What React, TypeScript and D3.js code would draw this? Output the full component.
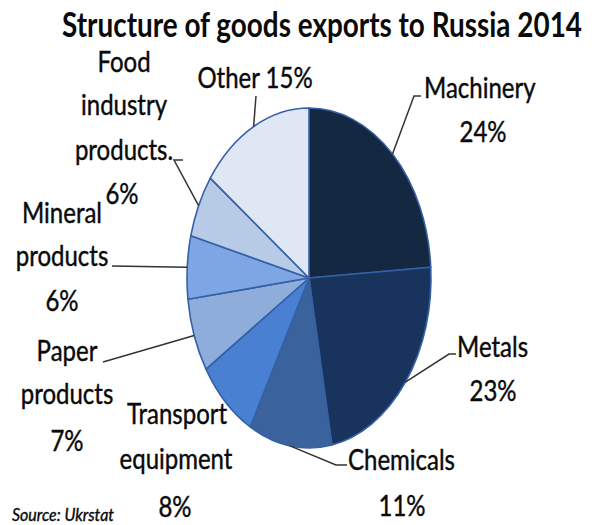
import React from "react";
import * as d3 from "d3";

const categories = [
  "Machinery",
  "Metals",
  "Chemicals",
  "Transport equipment",
  "Paper products",
  "Mineral products",
  "Food industry products",
  "Other",
];
const values = [24, 23, 11, 8, 7, 6, 6, 15];
const colors = [
  "#142842",
  "#18345d",
  "#3a629c",
  "#4a80d2",
  "#8eaddb",
  "#7fa6e4",
  "#b7cae6",
  "#dfe7f4",
];
const title = "Structure of goods exports to Russia 2014";
const source = "Source: Ukrstat";

const W = 592;
const H = 525;
const cx = 309;
const cy = 278;
const rx = 122;
const ry = 170;

type Line = { t: string; x: number; y: number; anchor?: string };
type LabelLayout = { lines: Line[]; leader: [number, number][] | null };

// label layout (positions only), one entry per category
const layout: LabelLayout[] = [
  {
    lines: [
      { t: "Machinery", x: 424, y: 98, anchor: "start" },
      { t: "24%", x: 483, y: 142 },
    ],
    leader: [[421, 96], [414, 96]],
  },
  {
    lines: [
      { t: "Metals", x: 457, y: 357, anchor: "start" },
      { t: "23%", x: 493, y: 401 },
    ],
    leader: [[456, 354], [449, 354]],
  },
  {
    lines: [
      { t: "Chemicals", x: 348, y: 470, anchor: "start" },
      { t: "11%", x: 402, y: 516 },
    ],
    leader: [[347, 465], [336, 465]],
  },
  {
    lines: [
      { t: "Transport", x: 177, y: 424 },
      { t: "equipment", x: 176, y: 469 },
      { t: "8%", x: 175, y: 517 },
    ],
    leader: null,
  },
  {
    lines: [
      { t: "Paper", x: 67, y: 361 },
      { t: "products", x: 67, y: 404 },
      { t: "7%", x: 67, y: 451 },
    ],
    leader: [[103, 362]],
  },
  {
    lines: [
      { t: "Mineral", x: 62, y: 223 },
      { t: "products", x: 62, y: 266 },
      { t: "6%", x: 62, y: 311 },
    ],
    leader: [[112, 266]],
  },
  {
    lines: [
      { t: "Food", x: 124, y: 72 },
      { t: "industry", x: 124, y: 115 },
      { t: "products.", x: 124, y: 160 },
      { t: "6%", x: 122, y: 204 },
    ],
    leader: [[183, 160], [174, 160]],
  },
  {
    lines: [{ t: "Other 15%", x: 255, y: 88 }],
    leader: [[256, 96]],
  },
];

const FONT = "Lato, 'Open Sans', sans-serif";

function Txt({ x, y, t, anchor = "middle", size = 24, sy = 1.18, weight = 400, style = "normal", len }: any) {
  return (
    <text
      transform={`translate(${x},${y}) scale(1,${sy})`}
      textAnchor={anchor}
      fontFamily={FONT}
      fontSize={size}
      fontWeight={weight}
      fontStyle={style}
      fill="#0a0a0a"
      stroke={weight === 400 ? "#0a0a0a" : "none"}
      strokeWidth={0.35}
      textLength={len}
      lengthAdjust={len ? "spacingAndGlyphs" : undefined}
    >
      {t}
    </text>
  );
}

export default function App() {
  const pie = d3
    .pie<number>()
    .sort(null)
    .value((d) => d)
    .startAngle(0)
    .endAngle(2 * Math.PI);
  const arcs = pie(values);
  const arc = d3.arc<d3.PieArcDatum<number>>().innerRadius(0).outerRadius(ry);
  const sx = rx / ry;

  const edge = (a: number): [number, number] => [
    cx + Math.sin(a) * rx,
    cy - Math.cos(a) * ry,
  ];

  return (
    <svg width={W} height={H} style={{ position: "absolute", left: 0, top: 0, background: "#fff" }}>
      <rect width={W} height={H} fill="#fff" />
      <g transform={`translate(${cx},${cy}) scale(${sx},1)`}>
        {arcs.map((a, i) => (
          <path
            key={i}
            d={arc(a) || ""}
            fill={colors[i]}
            stroke="#3560a8"
            strokeWidth={1.6}
            strokeLinejoin="round"
            vectorEffect="non-scaling-stroke"
          />
        ))}
      </g>
      {arcs.map((a, i) => {
        const L = layout[i];
        if (!L.leader) return null;
        const mid = (a.startAngle + a.endAngle) / 2;
        const pts = [edge(mid), ...L.leader.slice().reverse()];
        return (
          <polyline
            key={"l" + i}
            points={pts.map((p) => p.join(",")).join(" ")}
            fill="none"
            stroke="#333"
            strokeWidth={1.5}
          />
        );
      })}
      <Txt x={322} y={37} t={title} size={28} sy={1.2} weight={700} len={520} />
      {layout.map((L, i) =>
        L.lines.map((ln, j) => (
          <Txt key={i + "-" + j} x={ln.x} y={ln.y} t={ln.t} anchor={ln.anchor || "middle"} />
        ))
      )}
      <Txt x={12} y={521} t={source} anchor="start" size={16} sy={1.1} style="italic" />
    </svg>
  );
}
